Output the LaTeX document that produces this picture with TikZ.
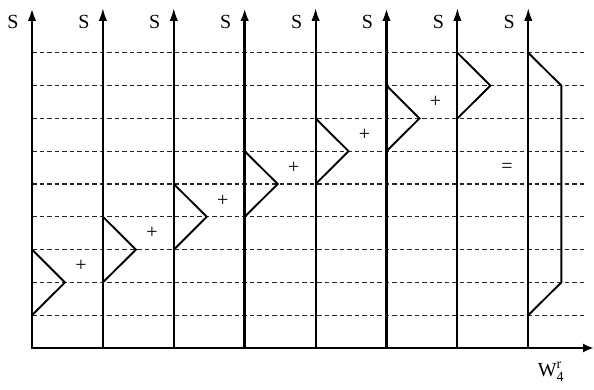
\documentclass[tikz,border=0pt]{standalone}
\usepackage{amsmath}
\usepackage{fontspec}
\setmainfont{Liberation Serif}
\usetikzlibrary{arrows.meta}
\begin{document}
\begin{tikzpicture}[x=1pt,y=-1pt,
  grid/.style={black!85,line width=1.1pt,dash pattern=on 4.5pt off 3pt},
  col/.style={line width=2pt,-{Latex[length=13pt,width=8.5pt]}},
  colthick/.style={line width=2.8pt,-{Latex[length=13pt,width=8.5pt]}},
  axis/.style={line width=2.8pt,-{Latex[length=11pt,width=9pt]}},
  tri/.style={line width=1.9pt,line join=miter},
  lab/.style={inner sep=0pt,font=\fontsize{20}{22}\selectfont},
  op/.style={inner sep=0pt,font=\fontsize{20}{22}\selectfont}]
\useasboundingbox (0,0) rectangle (594,390);
\def\lv#1{348-32.8*#1}
% dashed levels
\foreach \k in {1,...,9}{
  \draw[grid] (32,{\lv{\k}}) -- (586,{\lv{\k}});
}
% columns
\foreach \i in {0,...,7}{
  \coordinate (b\i) at ({32+70.9*\i},348);
  \coordinate (t\i) at ({32+70.9*\i},8);
  \node[lab] (s\i) at ({32+70.9*\i-19},22) {S};
}
\foreach \i in {1,2,4,6,7}{ \draw[col] (b\i) -- (t\i); }
\foreach \i in {0,3,5}{ \draw[colthick] (b\i) -- (t\i); }
% axis
\coordinate (o) at (31,348);
\coordinate (xe) at (594,348);
\draw[axis] (o) -- (xe);
\node[lab] (w) at (551,372) {W$^{\text{r}}_{\text{4}}$};
% triangles
\foreach \i in {0,...,6}{
  \pgfmathsetmacro{\xx}{32+70.9*\i}
  \draw[tri] (\xx,{\lv{(\i+3)}}) -- ({\xx+33},{\lv{(\i+2)}}) -- (\xx,{\lv{(\i+1)}});
}
\foreach \i in {0,...,5}{
  \pgfmathsetmacro{\xx}{32+70.9*\i}
  \node[op] (p\i) at ({\xx+49},{\lv{(\i+2.5)}}) {+};
}
% result
\draw[tri] (528.3,{\lv{9}}) -- (561.3,{\lv{8}}) -- (561.3,{\lv{2}}) -- (528.3,{\lv{1}});
\node[op] (eq) at (507,168) {=};
\end{tikzpicture}
\end{document}
